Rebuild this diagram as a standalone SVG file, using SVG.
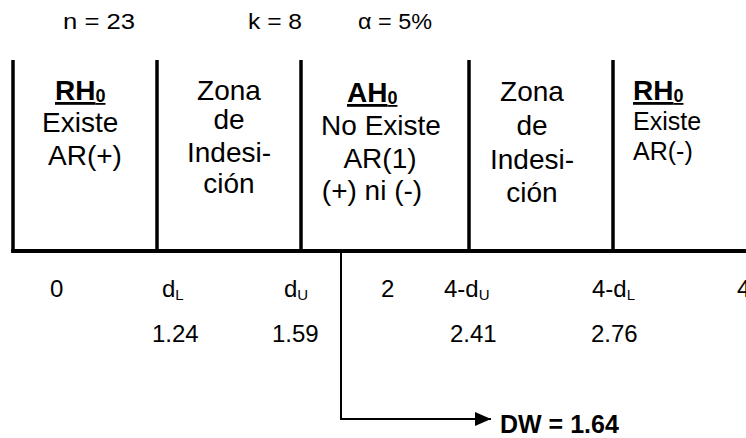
<svg xmlns="http://www.w3.org/2000/svg" width="746" height="438" viewBox="0 0 746 438">
<defs>
<style>
text{font-family:"Liberation Sans",Arial,Helvetica,sans-serif;fill:#000}
.hdr{font-size:22px}
.box{font-size:28px}
.sm{font-size:25px}
.b{font-weight:bold}
.ax{font-size:24px}
.mid{text-anchor:middle}
.wall{stroke:#000;stroke-width:3.5;fill:none}
.conn{stroke:#000;stroke-width:2;fill:none}
</style>
<marker id="arr" markerUnits="userSpaceOnUse" markerWidth="16" markerHeight="14" refX="16" refY="7" orient="auto">
<path d="M0,0 L16,7 L0,14 Z" fill="#000"/>
</marker>
</defs>
<rect width="746" height="438" fill="#fff"/>
<g id="header">
<text class="hdr" x="63" y="29" textLength="72" lengthAdjust="spacingAndGlyphs">n = 23</text>
<text class="hdr" x="248" y="29" textLength="54" lengthAdjust="spacingAndGlyphs">k = 8</text>
<text class="hdr" x="358" y="29" textLength="74" lengthAdjust="spacingAndGlyphs">α = 5%</text>
</g>
<g id="frame">
<line class="wall" x1="13" y1="60" x2="13" y2="253"/>
<line class="wall" x1="157" y1="60" x2="157" y2="251"/>
<line class="wall" x1="301" y1="60" x2="301" y2="251"/>
<line class="wall" x1="469" y1="60" x2="469" y2="251"/>
<line class="wall" x1="613" y1="60" x2="613" y2="251"/>
<line x1="11.25" y1="251" x2="746" y2="251" stroke="#000" stroke-width="4"/>
</g>
<g id="zone-rh0-pos">
<text class="box b" x="55" y="100" text-decoration="underline">RH<tspan font-size="18" dy="2">0</tspan></text>
<text class="box" x="42" y="132">Existe</text>
<text class="box" x="48" y="165">AR(+)</text>
</g>
<g id="zone-indecision-1">
<text class="box mid" x="229" y="100">Zona</text>
<text class="box mid" x="229" y="129">de</text>
<text class="box mid" x="229" y="162">Indesi-</text>
<text class="box mid" x="229" y="193">ción</text>
</g>
<g id="zone-ah0">
<text class="box b" x="347" y="102" text-decoration="underline">AH<tspan font-size="18" dy="2">0</tspan></text>
<text class="box mid" x="381" y="135">No Existe</text>
<text class="box mid" x="380" y="168">AR(1)</text>
<text class="box mid" x="372" y="200">(+) ni (-)</text>
</g>
<g id="zone-indecision-2">
<text class="box mid" x="532" y="101">Zona</text>
<text class="box mid" x="532" y="135">de</text>
<text class="box mid" x="532" y="169">Indesi-</text>
<text class="box mid" x="532" y="202">ción</text>
</g>
<g id="zone-rh0-neg">
<text class="box b" x="633" y="100" text-decoration="underline">RH<tspan font-size="18" dy="2">0</tspan></text>
<text class="sm" x="633" y="130">Existe</text>
<text class="sm" x="633" y="160">AR(-)</text>
</g>
<g id="axis-labels">
<text class="ax" x="50" y="297">0</text>
<text class="ax" x="162" y="297">d<tspan font-size="15" dy="3">L</tspan></text>
<text class="ax" x="284" y="297">d<tspan font-size="15" dy="3">U</tspan></text>
<text class="ax" x="381" y="297">2</text>
<text class="ax" x="444" y="297">4-d<tspan font-size="15" dy="3">U</tspan></text>
<text class="ax" x="592" y="297">4-d<tspan font-size="15" dy="3">L</tspan></text>
<text class="ax" x="737" y="297">4</text>
<text class="ax" x="152" y="342">1.24</text>
<text class="ax" x="272" y="342">1.59</text>
<text class="ax" x="450" y="342">2.41</text>
<text class="ax" x="591" y="342">2.76</text>
</g>
<g id="connectors">
<path class="conn" d="M341,253 V419 H491" marker-end="url(#arr)"/>
</g>
<g id="dw-result">
<text class="b" x="500" y="433" font-size="25">DW = 1.64</text>
</g>
</svg>
